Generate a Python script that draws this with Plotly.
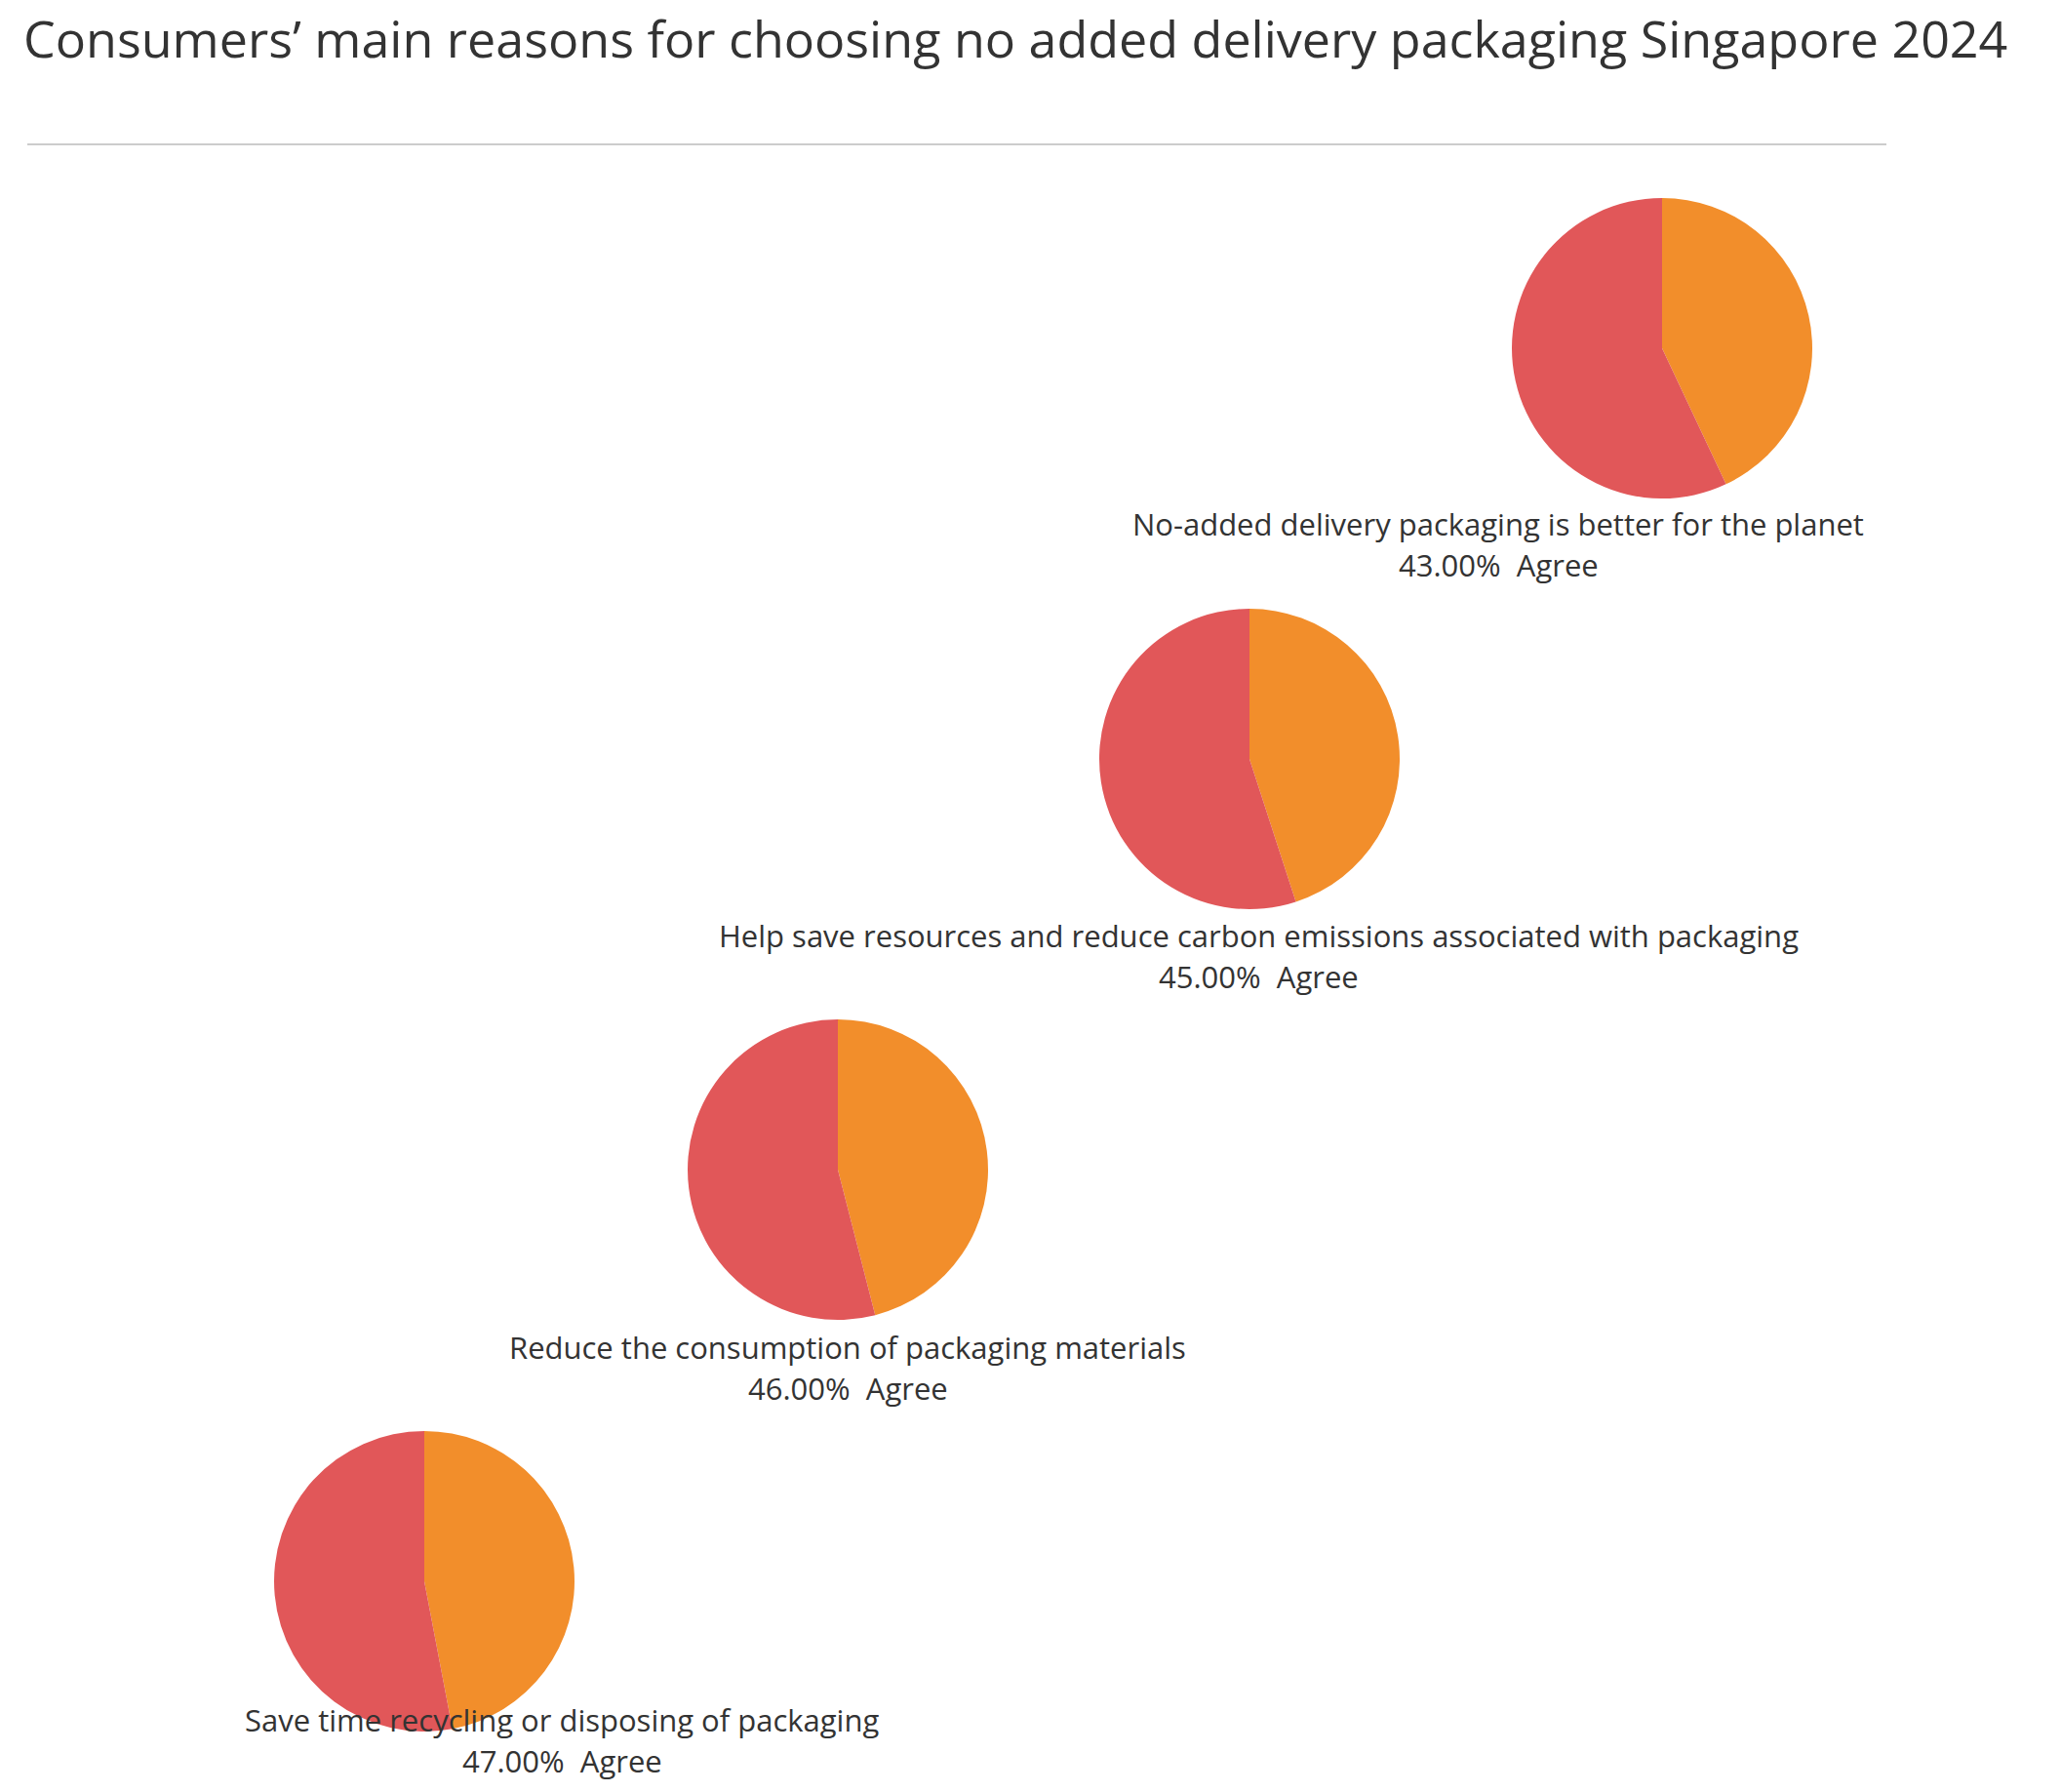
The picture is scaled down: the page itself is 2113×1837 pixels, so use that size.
import plotly.graph_objects as go

W, H = 2113, 1837
reasons = [
    "No-added delivery packaging is better for the planet",
    "Help save resources and reduce carbon emissions associated with packaging",
    "Reduce the consumption of packaging materials",
    "Save time recycling or disposing of packaging",
]
agree = [43, 45, 46, 47]
colors = ["#F28E2B", "#E15759"]

# layout positions (pixels)
centers = [(1696, 349), (1273, 770), (851, 1191), (427, 1613)]
R = 154
label_pos = [(1528, 529), (1282, 951), (861, 1373), (568, 1755)]

fig = go.Figure()
for (cx, cy), a in zip(centers, agree):
    fig.add_trace(go.Pie(
        values=[a, 100 - a], labels=["Agree", "Other"],
        sort=False, direction="clockwise", rotation=0,
        marker=dict(colors=colors, line=dict(width=0)),
        textinfo="none", hoverinfo="label+percent", showlegend=False,
        domain=dict(x=[(cx - R) / W, (cx + R) / W], y=[1 - (cy + R) / H, 1 - (cy - R) / H]),
    ))

for (lx, ly), txt, a in zip(label_pos, reasons, agree):
    fig.add_annotation(x=lx / W, y=1 - ly / H, xref="paper", yref="paper", text=txt,
                       showarrow=False, font=dict(size=31, color="#333333"), xanchor="center", yanchor="middle")
    fig.add_annotation(x=lx / W, y=1 - (ly + 42) / H, xref="paper", yref="paper", text=f"{a:.2f}%  Agree",
                       showarrow=False, font=dict(size=31, color="#333333"), xanchor="center", yanchor="middle")

fig.add_annotation(x=14 / W, y=1 - 30 / H, xref="paper", yref="paper", xanchor="left", yanchor="middle",
                   text="Consumers\u2019 main reasons for choosing no added delivery packaging Singapore 2024",
                   showarrow=False, font=dict(size=52, color="#333333"))
fig.add_shape(type="line", xref="paper", yref="paper", x0=20 / W, x1=1926 / W, y0=1 - 140 / H, y1=1 - 140 / H,
              line=dict(color="#cccccc", width=2))

fig.update_layout(width=W, height=H, margin=dict(l=0, r=0, t=0, b=0),
                  paper_bgcolor="white", plot_bgcolor="white", font=dict(family="Open Sans"))
fig.write_html("out.html")
